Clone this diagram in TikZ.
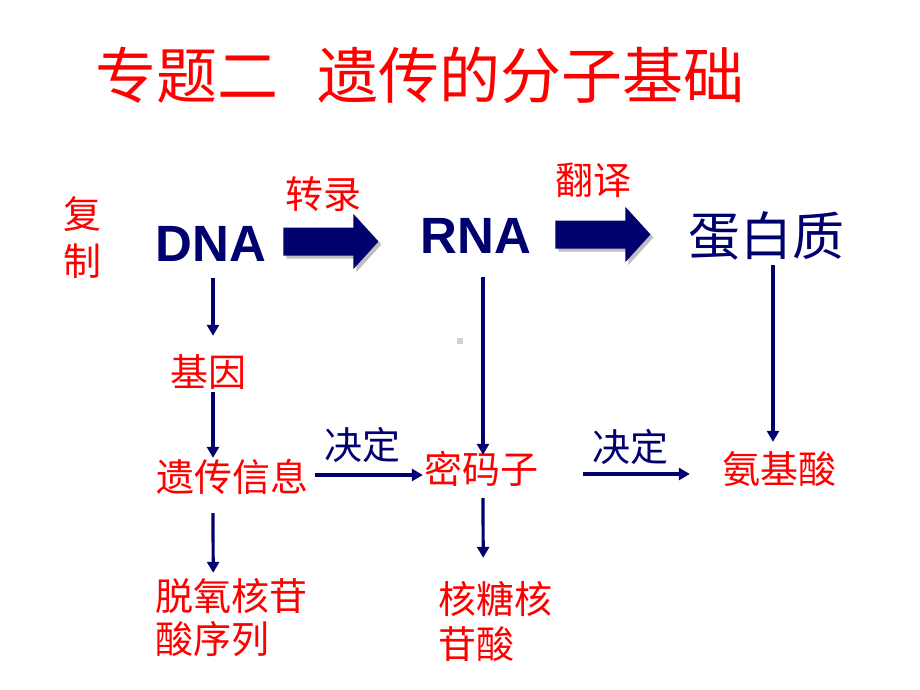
\documentclass[tikz,border=0pt]{standalone}
\usepackage{fontspec}
\setmainfont{Liberation Sans}
\newfontfamily\cjk{Noto Sans CJK SC}
\usetikzlibrary{arrows.meta}
\definecolor{navy}{RGB}{0,0,110}
\definecolor{myred}{RGB}{255,0,0}
\tikzset{
  cjklbl/.style={inner sep=0pt, text height=32.7pt, text depth=5.3pt, font=\cjk\fontsize{38}{46}\selectfont},
  redlbl/.style={cjklbl, text=myred},
  bluelbl/.style={cjklbl, text=navy},
  biglbl/.style={inner sep=0pt, text height=44.7pt, text depth=7.3pt, font=\cjk\fontsize{52}{60}\selectfont, text=navy},
  titlelbl/.style={inner sep=0pt, font=\cjk\fontsize{61}{70}\selectfont, text=myred},
  latin/.style={inner sep=0pt, text height=36.5pt, text depth=0pt, font=\fontsize{51}{60}\selectfont\bfseries, text=navy},
  arr/.style={draw=navy, line width=3.2pt, -{Triangle[length=11pt,width=12pt]}},
  blockarrow/.pic={
    \fill[gray!50] (3,-11) -- (73,-11) -- (73,-24.5) -- (98,3) -- (73,30.5) -- (73,17) -- (3,17) -- cycle;
    \fill[navy] (0,-14) -- (70,-14) -- (70,-27.5) -- (95,0) -- (70,27.5) -- (70,14) -- (0,14) -- cycle;
  }
}
\begin{document}
\begin{tikzpicture}[x=1pt,y=-1pt]
\useasboundingbox (0,0) rectangle (920,690);
\fill[white] (0,0) rectangle (920,690);

% title
\node[titlelbl] (title) at (420,75) {专题二\hspace{39pt}遗传的分子基础};

% side label
\node[redlbl] (fu) at (82,215) {复};
\node[redlbl] (zhi) at (82,262) {制};

% main row
\node[latin] (dna) at (211,243) {DNA};
\node[latin] (rna) at (476,235) {RNA};
\node[biglbl] (prot) at (766,237) {蛋白质};

\pic (ba1) at ([xshift=17pt,yshift=1.5pt]dna.east) {blockarrow};
\pic (ba2) at ([xshift=24pt,yshift=0.5pt]rna.east) {blockarrow};
\node[redlbl] (zhuanlu) at (323,195) {转录};
\node[redlbl] (fanyi) at (593,181) {翻译};

% lower labels
\node[redlbl] (gene) at (208,373) {基因};
\node[redlbl] (yichuan) at (232,478) {遗传信息};
\node[redlbl] (mima) at (481,470) {密码子};
\node[redlbl] (anji) at (779,470) {氨基酸};
\node[redlbl, anchor=west] (tuo) at (155,597) {脱氧核苷};
\node[redlbl, anchor=west] (tuo2) at (155,640) {酸序列};
\node[redlbl, anchor=west] (hetang) at (438,600) {核糖核};
\node[redlbl, anchor=west] (hetang2) at (438,645) {苷酸};

% vertical arrows
\draw[arr] ([xshift=2pt,yshift=-17pt]dna.south) -- ([xshift=5pt,yshift=18pt]gene.north);
\draw[arr] ([xshift=5pt]gene.south) -- ([xshift=-19pt,yshift=1pt]yichuan.north);
\draw[arr] ([xshift=-19pt,yshift=-16pt]yichuan.south) -- ([xshift=-18pt,yshift=5pt]tuo.north);
\draw[arr] ([xshift=7pt,yshift=-24pt]rna.south) -- ([xshift=2pt,yshift=-4pt]mima.north);
\draw[arr] ([xshift=2pt,yshift=-9pt]mima.south) -- ([xshift=-12pt,yshift=23pt]hetang.north);
\draw[arr] ([xshift=7pt,yshift=-2pt]prot.south) -- ([xshift=-6pt,yshift=9pt]anji.north);

% horizontal arrows
\draw[arr] ([xshift=7pt,yshift=3pt]yichuan.east) -- ([xshift=-1pt,yshift=-5pt]mima.west)
  node[bluelbl, pos=0.435, above=9pt] (jd1) {决定};
\draw[arr] ([xshift=45pt,yshift=-4pt]mima.east) -- ([xshift=-32pt,yshift=-4pt]anji.west)
  node[bluelbl, pos=0.44, above=6pt] (jd2) {决定};

% small grey dot
\fill[gray!35] (457,338) rectangle (463,344);
\end{tikzpicture}
\end{document}
